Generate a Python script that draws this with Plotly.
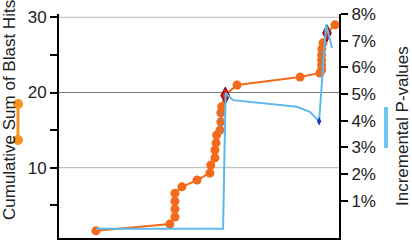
import plotly.graph_objects as go

# --- data ---
hit_pos = [13.2, 39.6, 41.4, 41.4, 41.4, 41.4, 43.9, 49.3, 53.9, 54.2,
           55.7, 55.7, 56.1, 56.3, 57.5, 57.8, 57.8, 58.1, 59.3, 63.6,
           86.1, 93.2, 93.8, 93.8, 93.8, 93.8, 93.9, 94.3, 95.7, 98.6]
cum_hits = [1.6, 2.5, 3.45, 4.5, 5.55, 6.6, 7.45, 8.35, 9.3, 10.35,
            11.3, 12.35, 13.3, 14.35, 15.0, 16.1, 17.3, 18.1, 19.65, 21.0,
            22.05, 22.6, 23.0, 23.65, 24.3, 25.0, 25.8, 26.6, 27.9, 29.0]

p_pos = [13.2, 58.6, 59.5, 62.1, 85.0, 89.6, 92.9, 95.4, 97.5]
p_vals = [-0.0005, -0.0005, 0.0504, 0.0477, 0.0452, 0.0433, 0.0398, 0.0760, 0.0672]

peak_pos = [59.4, 95.7]
peak_hits = [19.6, 27.9]
low_pos = [92.9]
low_p = [0.0398]

gray_pos = [57.9, 57.9, None, 93.8, 93.8]
gray_hits = [14.6, 17.6, None, 22.7, 25.4]

left_ticks = [5, 10, 15, 20, 25, 30]
left_labels = ["", "10", "", "20", "", "30"]
right_ticks = [0.01, 0.02, 0.03, 0.04, 0.05, 0.06, 0.07, 0.08]

ORANGE = "#f26a1a"
BLUE = "#5cb9ec"
FONT = "Liberation Sans, Arial, sans-serif"

fig = go.Figure()
fig.add_trace(go.Scatter(x=hit_pos, y=cum_hits, mode="lines+markers",
                         line=dict(color=ORANGE, width=2),
                         marker=dict(color=ORANGE, size=9), yaxis="y"))
fig.add_trace(go.Scatter(x=gray_pos, y=gray_hits, mode="lines",
                         line=dict(color="rgba(140,140,140,0.7)", width=3, dash="dot"),
                         yaxis="y"))
fig.add_trace(go.Scatter(x=p_pos, y=p_vals, mode="lines",
                         line=dict(color=BLUE, width=2), yaxis="y2"))
fig.add_trace(go.Scatter(x=low_pos, y=low_p, mode="markers",
                         marker=dict(symbol="diamond-tall", color="#1f33b5", size=6,
                                     line=dict(width=0)), yaxis="y2"))
fig.add_trace(go.Scatter(x=peak_pos, y=peak_hits, mode="markers",
                         marker=dict(symbol="diamond-tall", color="#e3161b", size=12,
                                     line=dict(color="#5a1010", width=1)), yaxis="y"))

shapes = []
for v, c in [(30, "#b4b4b4"), (20, "#7a7a7a"), (10, "#b4b4b4")]:
    shapes.append(dict(type="line", xref="paper", yref="y", x0=0, x1=1, y0=v, y1=v,
                       line=dict(color=c, width=1), layer="below"))

# legend glyphs beside the axis titles
lx = (18 - 59) / 280
shapes.append(dict(type="line", xref="paper", yref="paper", x0=lx, x1=lx,
                   y0=(238 - 104) / 224, y1=(238 - 140) / 224,
                   line=dict(color="#f7931e", width=3)))
for py in (104, 140):
    yc = (238 - py) / 224
    shapes.append(dict(type="circle", xref="paper", yref="paper",
                       x0=lx - 5 / 280, x1=lx + 5 / 280, y0=yc - 5 / 224, y1=yc + 5 / 224,
                       fillcolor="#f7931e", line=dict(width=0)))
bx = (386 - 59) / 280
shapes.append(dict(type="line", xref="paper", yref="paper", x0=bx, x1=bx,
                   y0=(238 - 107) / 224, y1=(238 - 148) / 224,
                   line=dict(color="#6cc6f0", width=4)))

annotations = [
    dict(text="Cumulative Sum of Blast Hits", xref="paper", yref="paper",
         x=(9 - 59) / 280, y=(238 - 222) / 224, xanchor="center", yanchor="bottom",
         textangle=-90, showarrow=False, font=dict(size=17, color="#222", family=FONT)),
    dict(text="Incremental P-values", xref="paper", yref="paper",
         x=(402 - 59) / 280, y=(238 - 126) / 224, xanchor="center", yanchor="middle",
         textangle=-90, showarrow=False, font=dict(size=17, color="#222", family=FONT)),
]

fig.update_layout(
    width=412, height=252,
    margin=dict(l=59, r=73, t=14, b=14, autoexpand=False),
    paper_bgcolor="white", plot_bgcolor="white",
    showlegend=False,
    font=dict(family=FONT, size=17, color="#222"),
    xaxis=dict(range=[0, 100], showticklabels=False, ticks="", showgrid=False,
               zeroline=False, showline=True, linecolor="black", linewidth=2),
    yaxis=dict(range=[0.65, 30.44], tickvals=left_ticks, ticktext=left_labels,
               ticks="outside", ticklen=7, tickcolor="black", tickwidth=1.5,
               showgrid=False, zeroline=False, showline=True, linecolor="black",
               linewidth=2, automargin=False),
    yaxis2=dict(range=[-0.004, 0.08], tickvals=right_ticks, tickformat=".0%",
                overlaying="y", side="right", anchor="x",
                ticks="outside", ticklen=7, tickcolor="black", tickwidth=1.5,
                showgrid=False, zeroline=False, showline=True, linecolor="black",
                linewidth=2, automargin=False),
    shapes=shapes, annotations=annotations,
)

fig.write_html("out.html")
